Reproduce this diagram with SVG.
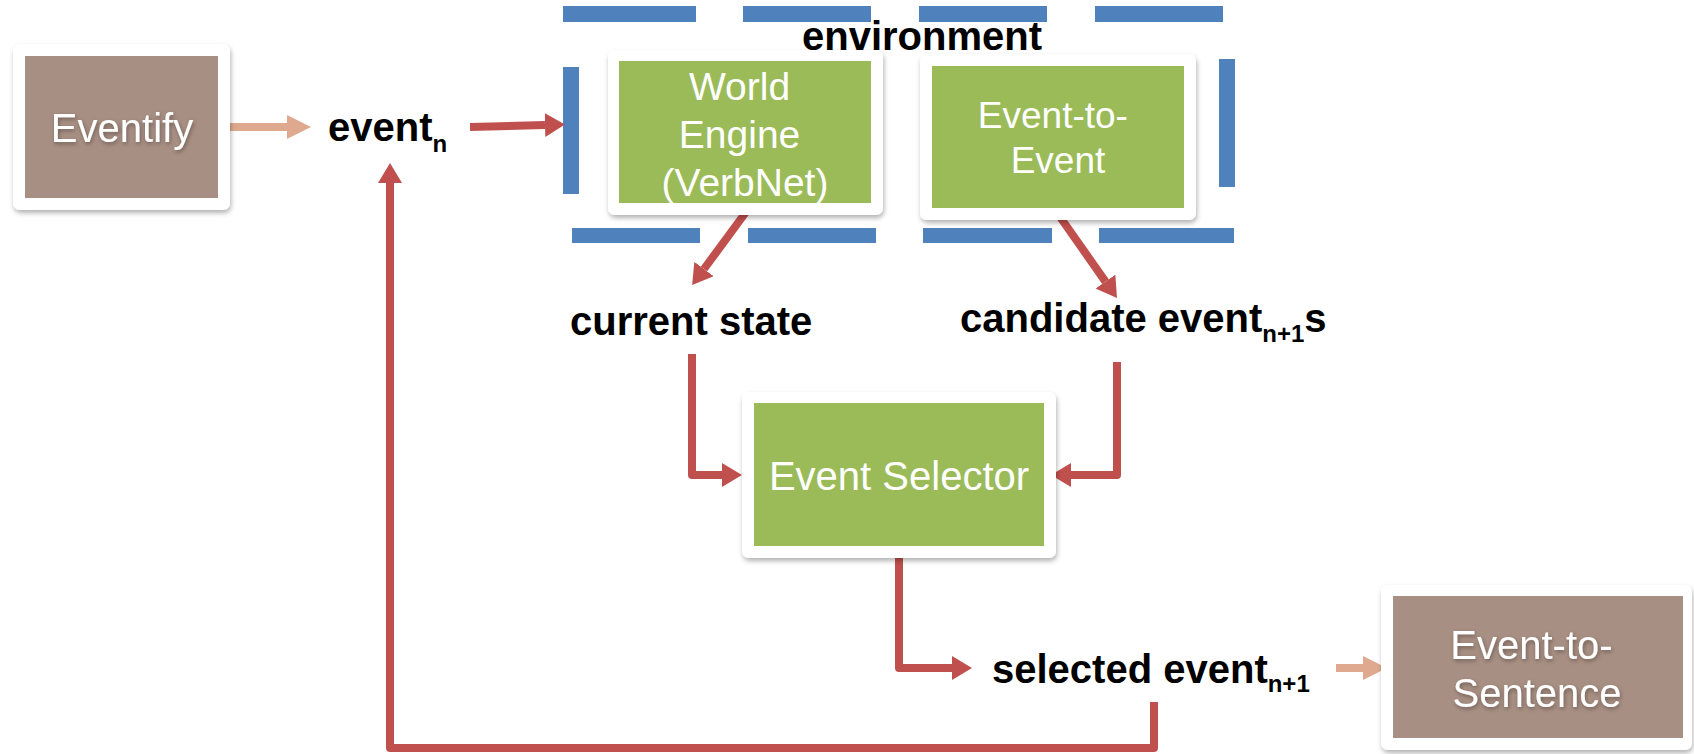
<svg xmlns="http://www.w3.org/2000/svg" width="1694" height="754" viewBox="0 0 1694 754">
  <style>
    .frame { fill: #FFFFFF; filter: url(#frameShadow); }
    .brown { fill: #A88F83; }
    .green { fill: #9BBB59; }
    .dash { fill: #4F81BD; }
    .boxText { font-family: "Liberation Sans", Arial, sans-serif; fill: #FFFFFF; text-anchor: middle; }
    .soft { filter: url(#textShadow); }
    .label { font-family: "Liberation Sans", Arial, sans-serif; font-weight: bold; fill: #000000; font-size: 40px; }
    .sub { font-size: 24px; }
    .red { fill: none; stroke: #C0504D; stroke-width: 8; stroke-linejoin: round; marker-end: url(#redHead); }
    .peach { fill: none; stroke: #DFA98F; stroke-width: 8; marker-end: url(#peachHead); }
  </style>
  <defs>
    <filter id="frameShadow" x="-10%" y="-10%" width="120%" height="130%">
      <feDropShadow dx="1" dy="3" stdDeviation="2.5" flood-color="#000000" flood-opacity="0.3"/>
    </filter>
    <filter id="textShadow" x="-10%" y="-20%" width="120%" height="150%">
      <feDropShadow dx="1" dy="2" stdDeviation="2" flood-color="#000000" flood-opacity="0.35"/>
    </filter>
    <marker id="redHead" markerUnits="userSpaceOnUse" viewBox="0 0 20 24" markerWidth="20" markerHeight="24" refX="0" refY="12" orient="auto">
      <path d="M0,0 L20,12 L0,24 Z" fill="#C0504D"/>
    </marker>
    <marker id="peachHead" markerUnits="userSpaceOnUse" viewBox="0 0 24 24" markerWidth="24" markerHeight="24" refX="0" refY="12" orient="auto">
      <path d="M0,0 L24,12 L0,24 Z" fill="#DFA98F"/>
    </marker>
  </defs>

  <!-- environment boundary (long-dash frame) -->
  <g id="environment">
    <rect class="dash" x="563" y="6" width="133" height="16"/>
    <rect class="dash" x="743" y="6" width="128" height="16"/>
    <rect class="dash" x="919" y="6" width="128" height="16"/>
    <rect class="dash" x="1095" y="6" width="128" height="16"/>
    <rect class="dash" x="563" y="67" width="16" height="127"/>
    <rect class="dash" x="1219" y="59" width="16" height="128"/>
    <rect class="dash" x="572" y="228" width="128" height="15"/>
    <rect class="dash" x="748" y="228" width="128" height="15"/>
    <rect class="dash" x="923" y="228" width="129" height="15"/>
    <rect class="dash" x="1099" y="228" width="135" height="15"/>
    <text class="label" x="922" y="50" text-anchor="middle">environment</text>
  </g>

  <!-- connectors -->
  <g id="connectors">
    <path class="peach" d="M224,127 H287"/>
    <path class="peach" d="M1336,668 H1363"/>
    <path class="red" d="M470,127 L545,125"/>
    <path class="red" d="M746,212 L704,269"/>
    <path class="red" d="M1058,214 L1105.5,281.6"/>
    <path class="red" d="M692,354 V475 H722"/>
    <path class="red" d="M1117,362 V475 H1071"/>
    <path class="red" d="M899,552 V668 H952"/>
    <path class="red" d="M1154,702 V748 H390 V183"/>
  </g>

  <!-- Eventify -->
  <g id="eventify">
    <rect class="frame" x="13" y="44" width="217" height="166" rx="7"/>
    <rect class="brown" x="25" y="56" width="193" height="142"/>
    <text class="boxText soft" x="122" y="142" font-size="40">Eventify</text>
  </g>

  <!-- World Engine -->
  <g id="world-engine">
    <rect class="frame" x="608" y="50" width="275" height="165" rx="7"/>
    <rect class="green" x="619" y="61" width="252" height="142"/>
    <text class="boxText" x="745" font-size="39">
      <tspan x="745" y="100">World</tspan>
      <tspan x="745" y="148">Engine</tspan>
      <tspan x="745" y="196">(VerbNet)</tspan>
    </text>
  </g>

  <!-- Event-to-Event -->
  <g id="event-to-event">
    <rect class="frame" x="920" y="54" width="276" height="166" rx="7"/>
    <rect class="green" x="932" y="66" width="252" height="142"/>
    <text class="boxText" font-size="37">
      <tspan x="1058" y="128">Event-to-</tspan>
      <tspan x="1058" y="173">Event</tspan>
    </text>
  </g>

  <!-- Event Selector -->
  <g id="event-selector">
    <rect class="frame" x="742" y="392" width="314" height="166" rx="7"/>
    <rect class="green" x="754" y="403" width="290" height="143"/>
    <text class="boxText" x="899" y="490" font-size="40">Event Selector</text>
  </g>

  <!-- Event-to-Sentence -->
  <g id="event-to-sentence">
    <rect class="frame" x="1381" y="585" width="311" height="165" rx="7"/>
    <rect class="brown" x="1393" y="596" width="290" height="142"/>
    <text class="boxText soft" font-size="40">
      <tspan x="1537" y="659">Event-to-</tspan>
      <tspan x="1537" y="707">Sentence</tspan>
    </text>
  </g>

  <!-- data labels -->
  <g id="event-n">
    <text class="label" x="328" y="141">event<tspan class="sub" dy="11">n</tspan></text>
  </g>
  <g id="current-state">
    <text class="label" x="570" y="335">current state</text>
  </g>
  <g id="candidate-events">
    <text class="label" x="960" y="332">candidate event<tspan class="sub" dy="10">n+1</tspan><tspan dy="-10">s</tspan></text>
  </g>
  <g id="selected-event">
    <text class="label" x="992" y="683">selected event<tspan class="sub" dy="9">n+1</tspan></text>
  </g>
</svg>
